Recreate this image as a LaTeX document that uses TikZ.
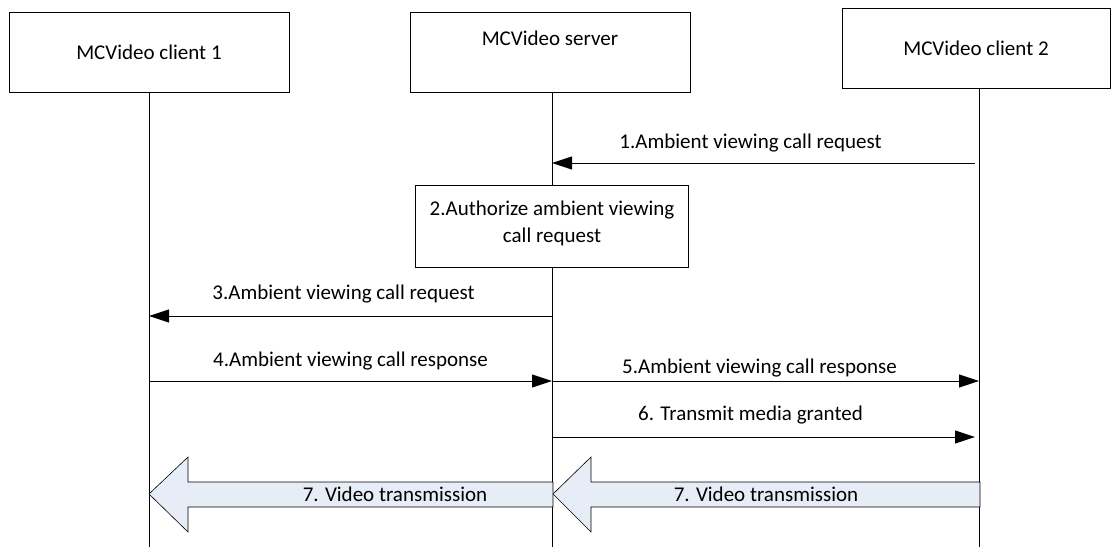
\documentclass[tikz,border=0pt]{standalone}
\usepackage{fontspec}
\setmainfont{Carlito}
\usetikzlibrary{arrows.meta}
\definecolor{videofill}{RGB}{231,237,247}

\begin{document}
\begin{tikzpicture}[x=1pt, y=-1pt, >={Triangle[length=20pt,width=13pt]},
  every node/.style={font=\fontsize{21}{25}\selectfont},
  entity/.style={draw, line width=0.9pt, minimum width=280pt, minimum height=80pt},
  msg/.style={->, line width=0.9pt},
  bigarrow/.style={draw, line width=0.6pt, fill=videofill}]
\useasboundingbox (0,0) rectangle (1112,547);
% entities
\node[entity] (cl1) at (149,52) {MCVideo client 1};
\node[entity, text depth=27pt] (srv) at (550,52) {MCVideo server};
\node[entity, minimum width=268pt] (cl2) at (976,48) {MCVideo client 2};
% lifelines
\coordinate (end1) at (149,547);
\coordinate (end2) at (552,547);
\coordinate (end3) at (979,547);
\draw[line width=0.9pt] (cl1.south) -- (end1);
\draw[line width=0.9pt] (srv.south -| end2) -- (end2);
\draw[line width=0.9pt] (cl2.south -| end3) -- (end3);
% step 2
\node[entity, fill=white, minimum width=273pt, minimum height=82pt, align=center,
  text depth=8pt] (auth) at (552,226)
  {2.Authorize ambient viewing\\[2pt]call request};
% messages
\coordinate (m1a) at (975,163); \coordinate (m1b) at (552,163);
\coordinate (m3a) at (552,316); \coordinate (m3b) at (149,316);
\coordinate (m4a) at (149,381); \coordinate (m4b) at (552,381);
\coordinate (m5b) at (979,381);
\coordinate (m6b) at (975,437);
\draw[msg] (m1a) -- node[above=7pt, xshift=-13pt] {1.Ambient viewing call request} (m1b);
\draw[msg] (m3a) -- node[above=9pt, xshift=-7pt] {3.Ambient viewing call request} (m3b);
\draw[msg] (m4a) -- node[above=7pt] {4.Ambient viewing call response} (m4b);
\draw[msg] (m4b) -- node[above=0pt, xshift=-6pt] {5.Ambient viewing call response} (m5b);
\draw[msg] (m4b |- m6b) -- node[above=9pt, xshift=-13pt] {6. Transmit media granted} (m6b);
% video transmission
\draw[bigarrow] (980,482) -- (591,482) -- (591,457) -- (553,494) -- (591,532)
  -- (591,507) -- (980,507) -- cycle;
\draw[bigarrow] (553,482) -- (188,482) -- (188,457) -- (149,494) -- (188,532)
  -- (188,507) -- (553,507) -- cycle;
\node (v1) at (395,494) {7. Video transmission};
\node (v2) at (766,494) {7. Video transmission};
\end{tikzpicture}
\end{document}
